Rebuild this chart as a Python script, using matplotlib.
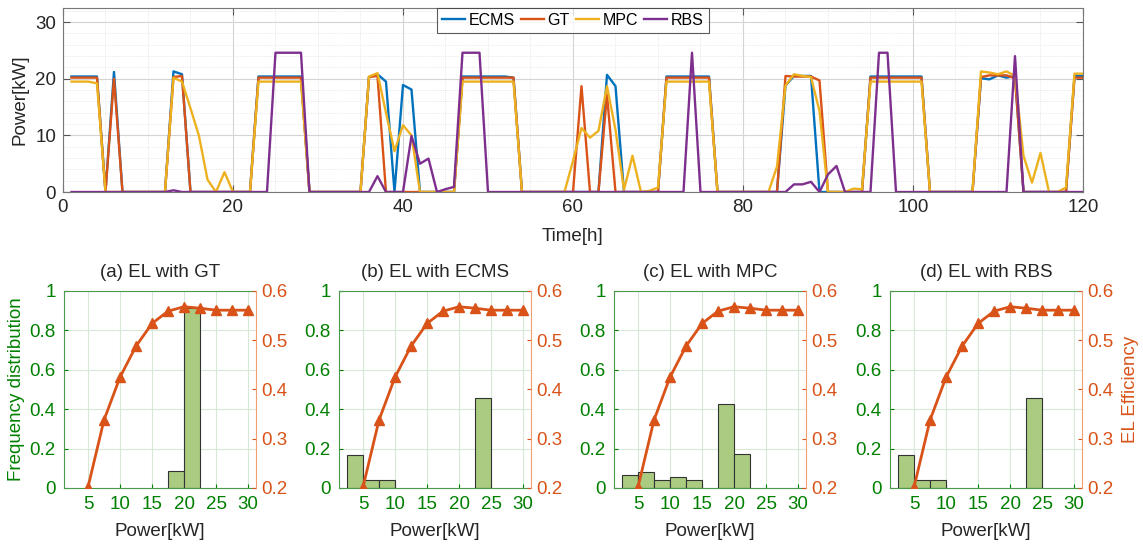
"""EL power profiles over 120 h and efficiency / power-frequency per strategy."""

import matplotlib

matplotlib.use("Agg")

import matplotlib.pyplot as plt
from matplotlib.ticker import FormatStrFormatter, MultipleLocator

plt.rcParams["font.family"] = ["Liberation Sans", "DejaVu Sans"]

# --- Top panel: EL power per hour ---
HOURS = list(range(1, 121))

ECMS = [
    20.4, 20.4, 20.4, 20.4, 0, 21.2, 0, 0, 0, 0,
    0, 0, 21.3, 20.8, 0, 0, 0, 0, 0, 0,
    0, 0, 20.4, 20.4, 20.4, 20.4, 20.4, 20.4, 0, 0,
    0, 0, 0, 0, 0, 20.3, 20.8, 19.5, 0, 18.9,
    18.1, 0, 0, 0, 0, 0, 20.4, 20.4, 20.4, 20.4,
    20.4, 20.4, 20.2, 0, 0, 0, 0, 0, 0, 0,
    0, 0, 0, 20.7, 18.7, 0, 0, 0, 0, 0,
    20.4, 20.4, 20.4, 20.4, 20.4, 20.4, 0, 0, 0, 0,
    0, 0, 0, 0, 18.8, 20.5, 20.5, 20.5, 0, 0,
    0, 0, 0, 0, 20.4, 20.4, 20.4, 20.4, 20.4, 20.4,
    20.4, 0, 0, 0, 0, 0, 0, 20.1, 19.9, 20.6,
    20.2, 20.5, 0, 0, 0, 0, 0, 0, 20.5, 20.5,
]

GT = [
    20.2, 20.2, 20.2, 20.2, 0, 20.0, 0, 0, 0, 0,
    0, 0, 20.3, 20.5, 0, 0, 0, 0, 0, 0,
    0, 0, 20.2, 20.2, 20.2, 20.2, 20.2, 20.2, 0, 0,
    0, 0, 0, 0, 0, 20.3, 20.5, 0, 0, 0,
    0, 0, 0, 0, 0, 0, 20.2, 20.2, 20.2, 20.2,
    20.2, 20.2, 20.2, 0, 0, 0, 0, 0, 0, 0,
    18.7, 0, 0, 17.2, 0, 0, 0, 0, 0, 0,
    20.2, 20.2, 20.2, 20.2, 20.2, 20.2, 0, 0, 0, 0,
    0, 0, 0, 0, 20.5, 20.4, 20.4, 20.4, 19.7, 0,
    0, 0, 0, 0, 20.2, 20.2, 20.2, 20.2, 20.2, 20.2,
    20.2, 0, 0, 0, 0, 0, 0, 20.3, 20.6, 20.6,
    20.6, 20.1, 0, 0, 0, 0, 0, 0, 20.2, 20.2,
]

MPC = [
    19.5, 19.5, 19.5, 19.2, 0, 0, 0, 0, 0, 0,
    0, 0, 20.2, 19.5, 14.8, 9.9, 2.2, 0, 3.5, 0,
    0, 0, 19.5, 19.5, 19.5, 19.5, 19.5, 19.5, 0, 0,
    0, 0, 0, 0, 0, 20.4, 21.0, 14.0, 7.2, 11.8,
    10.0, 0, 0, 0, 0, 0, 19.5, 19.5, 19.5, 19.5,
    19.5, 19.5, 19.5, 0, 0, 0, 0, 0, 0, 5.5,
    11.3, 9.6, 10.8, 18.7, 11.0, 0.4, 6.4, 0, 0.2, 0.8,
    19.5, 19.5, 19.5, 19.5, 19.5, 19.5, 0, 0, 0, 0,
    0, 0, 0, 4.5, 18.8, 20.8, 20.5, 20.3, 14.3, 0,
    0, 0, 0.6, 0.5, 19.5, 19.5, 19.5, 19.5, 19.5, 19.5,
    19.5, 0, 0, 0, 0, 0, 0, 21.3, 21.1, 20.8,
    21.3, 20.5, 6.4, 1.65, 6.9, 0, 0, 0.8, 20.9, 20.9,
]

RBS = [
    0, 0, 0, 0, 0, 0, 0, 0, 0, 0,
    0, 0, 0.3, 0, 0, 0, 0, 0, 0, 0,
    0, 0, 0, 0, 24.6, 24.6, 24.6, 24.6, 0, 0,
    0, 0, 0, 0, 0, 0, 2.8, 0, 0, 0,
    9.9, 5.0, 5.9, 0, 0.5, 0.9, 24.6, 24.6, 24.6, 0,
    0, 0, 0, 0, 0, 0, 0, 0, 0, 0,
    0, 0, 0, 0, 0, 0, 0, 0, 0, 0,
    0, 0, 0, 24.6, 0, 0, 0, 0, 0, 0,
    0, 0, 0, 0, 0, 1.35, 1.35, 1.8, 0, 3.1,
    4.6, 0, 0, 0, 0, 24.6, 24.6, 0, 0, 0,
    0, 0, 0, 0, 0, 0, 0, 0, 0, 0,
    0, 24.0, 0, 0, 0, 0, 0, 0, 0, 0,
]

# --- Bottom panels: frequency of EL power (bins of 2.5 kW) and EL efficiency ---
BIN_LEFT = [2.5, 5.0, 7.5, 10.0, 12.5, 15.0, 17.5, 20.0, 22.5, 25.0, 27.5]
FREQ_GT = [0, 0, 0, 0, 0, 0, 0.085, 0.915, 0, 0, 0]
FREQ_ECMS = [0.167, 0.042, 0.042, 0, 0, 0, 0, 0, 0.458, 0, 0]
FREQ_MPC = [0.067, 0.08, 0.042, 0.054, 0.042, 0, 0.428, 0.172, 0, 0, 0]
FREQ_RBS = [0.167, 0.042, 0.042, 0, 0, 0, 0, 0, 0.458, 0, 0]

EFF_POWER = [5, 7.5, 10, 12.5, 15, 17.5, 20, 22.5, 25, 27.5, 30]
EFF = [0.202, 0.338, 0.425, 0.488, 0.534, 0.559, 0.568, 0.565, 0.561, 0.561, 0.561]

PANEL_TITLES = ["(a) EL with GT", "(b) EL with ECMS", "(c) EL with MPC", "(d) EL with RBS"]

# --- Style ---
BLUE = "#0072BD"
ORANGE = "#D95319"
YELLOW = "#EDB120"
PURPLE = "#7E2F8E"
GREEN = "#008000"
BAR_GREEN = "#AACB80"
TEXT = "#262626"
FS = 13.5

fig = plt.figure(figsize=(11.43, 5.45), dpi=100)

# top time-series panel
ax = fig.add_axes([0.0551, 0.6477, 0.8924, 0.3376])
ax.plot(HOURS, ECMS, color=BLUE, lw=1.7, label="ECMS")
ax.plot(HOURS, GT, color=ORANGE, lw=1.7, label="GT")
ax.plot(HOURS, MPC, color=YELLOW, lw=1.7, label="MPC")
ax.plot(HOURS, RBS, color=PURPLE, lw=1.7, label="RBS")
ax.set_xlim(0, 120)
ax.set_ylim(0, 32.5)
ax.xaxis.set_major_locator(MultipleLocator(20))
ax.xaxis.set_minor_locator(MultipleLocator(5))
ax.yaxis.set_major_locator(MultipleLocator(10))
ax.yaxis.set_minor_locator(MultipleLocator(2))
ax.grid(which="major", color="#d4d4d4", lw=0.8)
ax.grid(which="minor", color="#dedede", lw=0.6, ls=":")
ax.set_axisbelow(True)
ax.tick_params(which="major", direction="in", top=True, right=True, length=5,
               width=0.8, color="#555555", labelsize=FS, labelcolor=TEXT, pad=5)
ax.tick_params(which="minor", length=0)
for sp in ax.spines.values():
    sp.set_color("#777777")
    sp.set_linewidth(0.8)
ax.set_xlabel("Time[h]", fontsize=FS, color=TEXT, labelpad=9)
ax.set_ylabel("Power[kW]", fontsize=FS, color=TEXT, labelpad=5)
leg = ax.legend(loc="upper center", bbox_to_anchor=(0.5, 1.0), ncol=4, fontsize=11.5,
                frameon=True, fancybox=False, borderaxespad=0, borderpad=0.3,
                handlelength=1.4, handletextpad=0.25, columnspacing=0.4)
leg.get_frame().set_edgecolor("#333333")
leg.get_frame().set_linewidth(0.8)

# bottom panels
lefts = [0.056, 0.2966, 0.5372, 0.7787]
freqs = [FREQ_GT, FREQ_ECMS, FREQ_MPC, FREQ_RBS]
for i, (title, freq) in enumerate(zip(PANEL_TITLES, freqs)):
    ax1 = fig.add_axes([lefts[i], 0.1046, 0.168, 0.3615])
    xs = [b for b, f in zip(BIN_LEFT, freq) if f > 0]
    hs = [f for f in freq if f > 0]
    ax1.bar(xs, hs, width=2.5, align="edge", color=BAR_GREEN,
            edgecolor="#333333", linewidth=0.8, zorder=2)
    ax1.set_xlim(1.25, 31.25)
    ax1.set_ylim(0, 1)
    ax1.set_xticks([5, 10, 15, 20, 25, 30])
    ax1.set_yticks([0, 0.2, 0.4, 0.6, 0.8, 1.0])
    ax1.yaxis.set_major_formatter(FormatStrFormatter("%g"))
    ax1.grid(True, color="#d6e9d6", lw=0.8)
    ax1.set_axisbelow(True)
    ax1.tick_params(direction="in", length=3, color=GREEN, labelsize=FS,
                    labelcolor=GREEN, pad=6)
    for side in ("left", "bottom", "top"):
        ax1.spines[side].set_color("#4a9a4a")
        ax1.spines[side].set_linewidth(0.8)
    ax1.spines["right"].set_visible(False)
    ax1.set_title(title, fontsize=FS, color=TEXT, pad=10)
    ax1.set_xlabel("Power[kW]", fontsize=FS, color=TEXT, labelpad=7)
    if i == 0:
        ax1.set_ylabel("Frequency distribution", fontsize=FS, color=GREEN, labelpad=3)

    ax2 = ax1.twinx()
    ax2.plot(EFF_POWER, EFF, color=ORANGE, lw=2, marker="^", ms=7, zorder=3)
    ax2.set_ylim(0.2, 0.6)
    ax2.set_yticks([0.2, 0.3, 0.4, 0.5, 0.6])
    ax2.yaxis.set_major_formatter(FormatStrFormatter("%g"))
    ax2.tick_params(direction="in", length=3, color=ORANGE, labelsize=FS,
                    labelcolor=ORANGE, pad=4)
    for side in ("left", "bottom", "top"):
        ax2.spines[side].set_visible(False)
    ax2.spines["right"].set_color("#F0A070")
    ax2.spines["right"].set_linewidth(0.8)
    if i == 3:
        ax2.set_ylabel("EL Efficiency", fontsize=FS, color=ORANGE, labelpad=6)

fig.savefig("out.png", dpi=100)
